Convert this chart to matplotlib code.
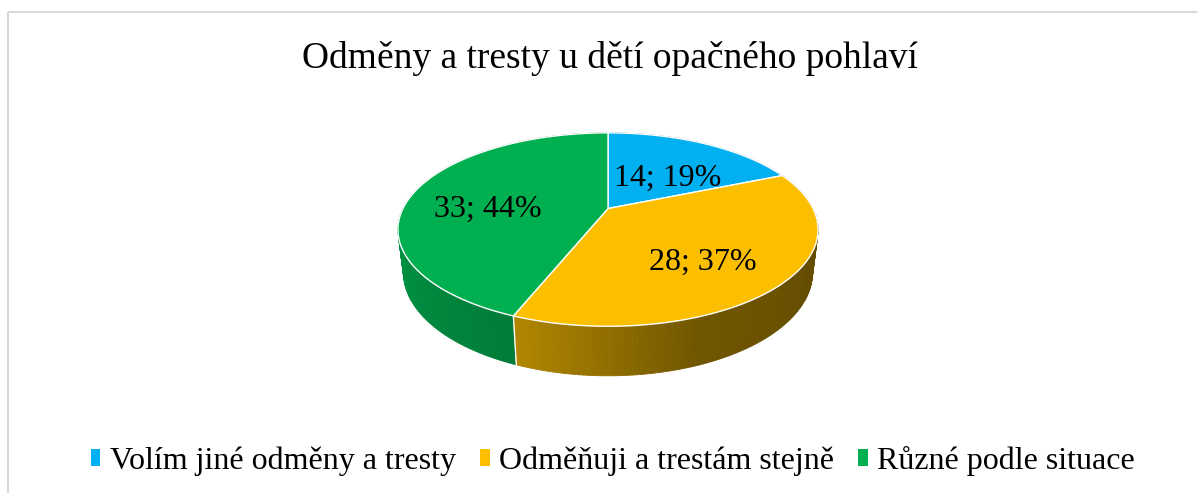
import numpy as np
import matplotlib
matplotlib.use('Agg')
import matplotlib.pyplot as plt
from matplotlib.patches import Polygon, Rectangle, Patch
from matplotlib.collections import PolyCollection
from matplotlib.colors import to_rgb

plt.rcParams['font.family'] = ['Liberation Serif', 'DejaVu Serif']

title = 'Odměny a tresty u dětí opačného pohlaví'
categories = ['Volím jiné odměny a tresty', 'Odměňuji a trestám stejně', 'Různé podle situace']
counts = [14, 28, 33]
colors = ['#00B0F0', '#FBBF00', '#00B050']

# look of the 3d pie, in pixels
cx, cy, R = 608, 208.5, 205
elev = np.radians(26.7)
dist = 4.1
H = 0.235


def project(theta, r=1.0, z=0.0):
    x = r * np.cos(theta)
    y = r * np.sin(theta)
    yv = y * np.sin(elev) + z * np.cos(elev)
    zd = y * np.cos(elev) - z * np.sin(elev)
    s = dist / (dist + zd)
    return cx + x * s * R, cy - yv * s * R, zd


def shade(theta):
    a = np.degrees(theta) % 360
    return np.interp(a, [0, 90, 170, 200, 250, 290, 330, 360],
                     [0.40, 0.6, 0.84, 0.82, 0.70, 0.45, 0.40, 0.40])


fig = plt.figure(figsize=(11.97, 4.93), dpi=100)
ax = fig.add_axes([0, 0, 1, 1])
ax.set_xlim(0, 1197)
ax.set_ylim(493, 0)
ax.axis('off')

# chart frame (cut off on the right and bottom)
ax.add_patch(Rectangle((8, 12), 1250, 550, fill=False, ec='#d9d9d9', lw=1.5))

total = sum(counts)
cum = np.concatenate([[0], np.cumsum(counts)])
starts = np.radians(90 - 360 * cum[:-1] / total)
ends = np.radians(90 - 360 * cum[1:] / total)

# side walls, far to near
quads, qcols, depth = [], [], []
for i in range(len(counts)):
    n = max(int(abs(np.degrees(starts[i] - ends[i]))), 2)
    th = np.linspace(starts[i], ends[i], n + 1)
    base = np.array(to_rgb(colors[i]))
    for a0, a1 in zip(th[:-1], th[1:]):
        x0, y0, _ = project(a0)
        x1, y1, _ = project(a1)
        x2, y2, _ = project(a1, z=-H)
        x3, y3, _ = project(a0, z=-H)
        quads.append([(x0, y0), (x1, y1), (x2, y2), (x3, y3)])
        qcols.append(base * shade((a0 + a1) / 2))
        depth.append(project((a0 + a1) / 2, z=-H / 2)[2])
order = np.argsort(depth)[::-1]
ax.add_collection(PolyCollection([quads[k] for k in order],
                                 facecolors=[qcols[k] for k in order],
                                 edgecolors=[qcols[k] for k in order],
                                 linewidths=0.6, zorder=2))

# wall seams at slice boundaries in front
for a in starts:
    if np.sin(a) < -0.2:
        xa, ya, _ = project(a)
        xb, yb, _ = project(a, z=-H)
        ax.plot([xa, xb], [ya, yb], color='white', lw=1, zorder=3)

# top faces
for i in range(len(counts)):
    th = np.linspace(starts[i], ends[i], 200)
    px, py, _ = project(th)
    pts = [(cx, cy)] + list(zip(px, py))
    ax.add_patch(Polygon(pts, closed=True, fc=colors[i], ec='white', lw=1, zorder=4))

# data labels
for i in range(len(counts)):
    mid = (starts[i] + ends[i]) / 2
    lx, ly, _ = project(mid, r=0.6)
    pct = round(100 * counts[i] / total)
    ax.text(lx - 2, ly + 11, f'{counts[i]}; {pct}%', ha='center', va='center',
            fontsize=23, color='black', zorder=5)

fig.text(610 / 1197, 1 - 58 / 493, title, ha='center', va='center', fontsize=27)

handles = [Patch(fc=c, ec='none') for c in colors]
fig.legend(handles, categories, loc='center', bbox_to_anchor=(613 / 1197, 32 / 493),
           ncol=3, frameon=False, fontsize=23, handlelength=0.3, handleheight=0.45,
           handletextpad=0.3, columnspacing=0.75)

plt.savefig('out.png', dpi=100)
